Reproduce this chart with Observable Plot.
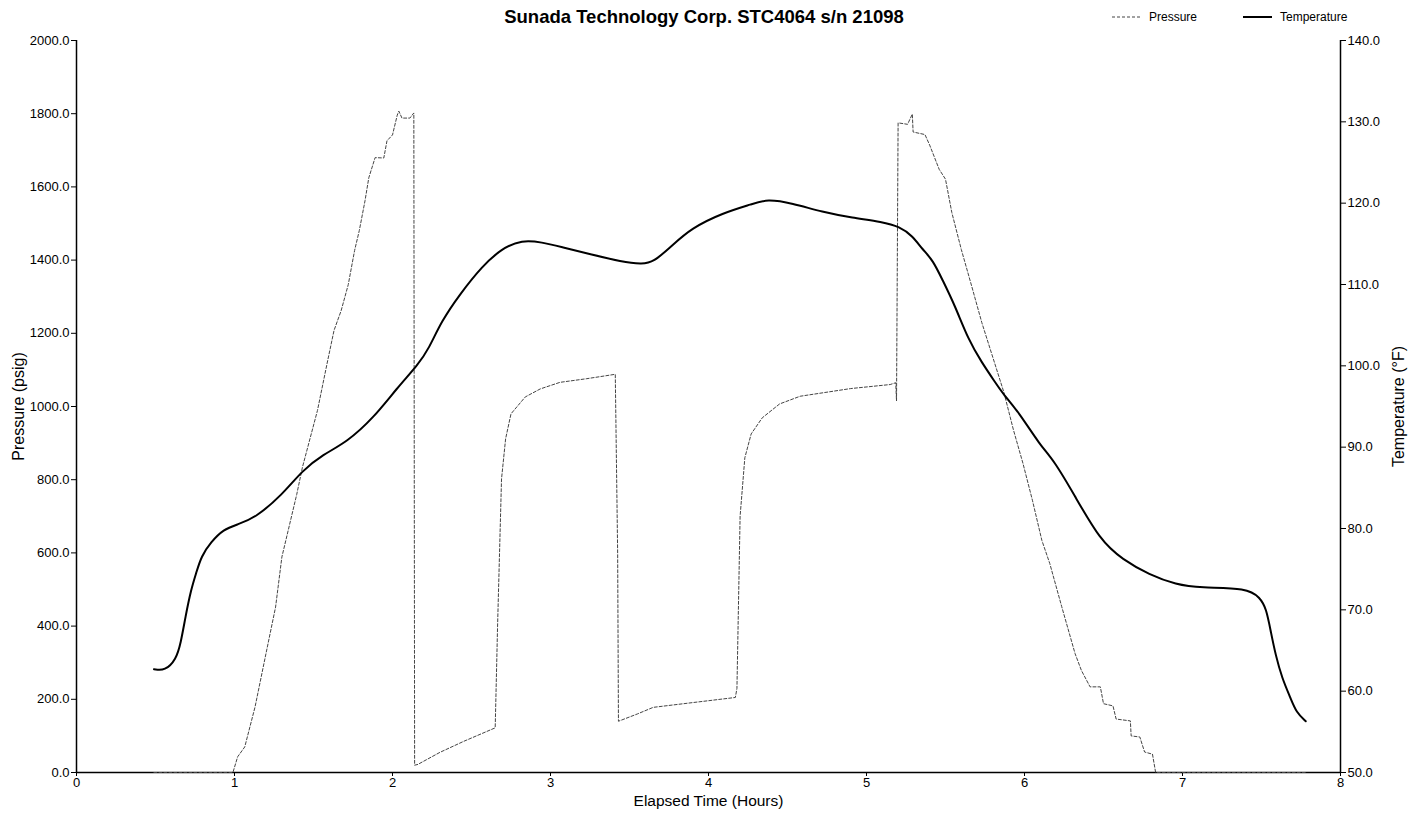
<!DOCTYPE html>
<html>
<head>
<meta charset="utf-8">
<script src="https://cdn.jsdelivr.net/npm/d3@7"></script>
<script src="https://cdn.jsdelivr.net/npm/@observablehq/plot@0.6"></script>
<style>
  body { margin: 0; background: #fff; font-family: "Liberation Sans", Arial, sans-serif; }
  #wrap { position: relative; width: 1408px; height: 813px; background: #fff; }
  #head { position: relative; width: 1408px; height: 30px; }
  #title { position: absolute; left: 0; top: 6px; width: 1408px; text-align: center;
           font-weight: bold; font-size: 18.5px; line-height: 22px; color: #000; }
  #legend { position: absolute; left: 0; top: 0; }
</style>
</head>
<body>
<div id="wrap">
  <div id="head">
    <div id="title">Sunada Technology Corp. STC4064 s/n 21098</div>
    <svg id="legend" width="1408" height="30"></svg>
  </div>
  <div id="chart"></div>
</div>
<script>
// Elapsed time (hours) and pressure (psig)
const pressureHours = [0.49, 0.99, 1.02, 1.065, 1.13, 1.195, 1.26, 1.30, 1.394, 1.43, 1.525, 1.59, 1.63, 1.675, 1.72, 1.76, 1.79, 1.826, 1.85, 1.89, 1.945, 1.965, 2.0, 2.03, 2.04, 2.06, 2.11, 2.135, 2.14, 2.16, 2.3, 2.45, 2.65, 2.665, 2.69, 2.716, 2.75, 2.84, 2.935, 3.06, 3.23, 3.41, 3.425, 3.43, 3.55, 3.65, 4.17, 4.18, 4.2, 4.23, 4.27, 4.34, 4.45, 4.58, 4.9, 5.15, 5.185, 5.19, 5.2, 5.26, 5.29, 5.295, 5.37, 5.40, 5.46, 5.50, 5.54, 5.60, 5.665, 5.73, 5.81, 5.87, 5.93, 5.99, 6.05, 6.11, 6.16, 6.235, 6.32, 6.36, 6.415, 6.48, 6.50, 6.56, 6.58, 6.67, 6.675, 6.73, 6.76, 6.81, 6.83, 7.78];
const pressurePsig  = [0, 0, 43, 70, 179, 316, 452, 589, 760, 834, 989, 1126, 1208, 1262, 1333, 1426, 1481, 1562, 1625, 1680, 1679, 1726, 1742, 1796, 1807, 1788, 1788, 1802, 20, 22, 55, 85, 122, 400, 802, 912, 980, 1026, 1048, 1066, 1076, 1088, 600, 140, 160, 178, 205, 230, 700, 860, 925, 969, 1007, 1028, 1049, 1060, 1065, 1015, 1775, 1771, 1799, 1750, 1743, 1714, 1648, 1621, 1530, 1429, 1330, 1229, 1120, 1038, 936, 845, 744, 634, 571, 454, 325, 279, 234, 234, 188, 182, 146, 141, 100, 97, 56, 50, 0, 0];

// Elapsed time (hours) and temperature (°F)
const temperatureHours = [0.49, 0.56, 0.63, 0.66, 0.69, 0.725, 0.757, 0.79, 0.85, 0.93, 1.02, 1.13, 1.30, 1.427, 1.56, 1.71, 1.88, 2.03, 2.16, 2.23, 2.31, 2.43, 2.565, 2.69, 2.82, 2.945, 3.07, 3.26, 3.45, 3.577, 3.65, 3.77, 3.89, 4.09, 4.28, 4.37, 4.53, 4.72, 4.91, 5.10, 5.21, 5.29, 5.355, 5.42, 5.48, 5.56, 5.645, 5.73, 5.81, 5.87, 5.96, 6.10, 6.185, 6.31, 6.48, 6.62, 6.79, 6.96, 7.11, 7.41, 7.49, 7.53, 7.56, 7.59, 7.63, 7.685, 7.72, 7.78];
const temperatureF = [62.7, 62.5, 63.9, 65.9, 69.2, 72.5, 74.5, 76.6, 78.3, 79.9, 80.5, 81.3, 84.1, 87.1, 89.1, 90.6, 93.6, 97.3, 100.1, 102.1, 105.5, 108.9, 112.2, 114.4, 115.5, 115.2, 114.6, 113.7, 112.8, 112.5, 112.7, 114.8, 116.9, 118.8, 119.9, 120.5, 120.0, 118.9, 118.2, 117.7, 117.1, 116.0, 114.3, 113.0, 110.6, 107.4, 103.2, 100.4, 98.1, 96.4, 94.4, 90.2, 88.4, 84.3, 78.5, 76.2, 74.3, 73.1, 72.7, 72.7, 71.5, 70.2, 67.2, 64.4, 61.6, 59.1, 57.4, 56.3];

// Tick values
const hourTicks = [0, 1, 2, 3, 4, 5, 6, 7, 8];
const pressureTicks = [0, 200, 400, 600, 800, 1000, 1200, 1400, 1600, 1800, 2000];
const temperatureTicks = [50, 60, 70, 80, 90, 100, 110, 120, 130, 140];

const pMin = 0, pMax = 2000, tMin = 50, tMax = 140;
const tToP = t => (t - tMin) / (tMax - tMin) * (pMax - pMin) + pMin;
const pToT = p => (p - pMin) / (pMax - pMin) * (tMax - tMin) + tMin;

const pressureData = pressureHours.map((h, i) => ({h, v: pressurePsig[i]}));
const temperatureData = temperatureHours.map((h, i) => ({h, v: tToP(temperatureF[i])}));

const fmt1 = d3.format(".1f");
const font = "Liberation Sans, Arial, sans-serif";

const chart = Plot.plot({
  width: 1408,
  height: 783,
  marginTop: 10,
  marginBottom: 41,
  marginLeft: 76,
  marginRight: 68,
  style: {fontFamily: font, fontSize: "13px", color: "#000", background: "#fff"},
  x: {domain: [0, 8]},
  y: {domain: [pMin, pMax]},
  marks: [
    Plot.axisX({ticks: hourTicks, tickSize: 4, tickPadding: 1, tickFormat: d => String(d), label: null}),
    Plot.axisY({ticks: pressureTicks, tickSize: 5, tickPadding: 2, tickFormat: d => fmt1(d), label: null}),
    Plot.axisY({anchor: "right", ticks: temperatureTicks.map(tToP), tickSize: 5, tickPadding: 2,
                tickFormat: d => fmt1(pToT(d)), label: null}),
    Plot.ruleX([0, 8], {stroke: "#000", strokeWidth: 1.5}),
    Plot.ruleY([0], {stroke: "#000", strokeWidth: 1.5}),
    Plot.line(pressureData, {x: "h", y: "v", stroke: "#444", strokeWidth: 1, strokeDasharray: "3,2"}),
    Plot.line(temperatureData, {x: "h", y: "v", stroke: "#000", strokeWidth: 2, curve: "basis"}),
    Plot.text(["Pressure (psig)"], {text: d => d, frameAnchor: "left", dx: -58, rotate: -90,
                                    textAnchor: "middle", lineAnchor: "middle", fontSize: 16}),
    Plot.text(["Temperature (°F)"], {text: d => d, frameAnchor: "right", dx: 58, rotate: -90,
                                     textAnchor: "middle", lineAnchor: "middle", fontSize: 16}),
    Plot.text(["Elapsed Time (Hours)"], {text: d => d, frameAnchor: "bottom", dy: 29,
                                         textAnchor: "middle", lineAnchor: "middle", fontSize: 15.5})
  ]
});
document.getElementById("chart").appendChild(chart);

// Legend
const lg = d3.select("#legend");
const legendItems = [
  {label: "Pressure", x: 1112, dash: "3,2", stroke: "#444", width: 1},
  {label: "Temperature", x: 1243, dash: null, stroke: "#000", width: 2}
];
legendItems.forEach(it => {
  lg.append("line").attr("x1", it.x).attr("x2", it.x + 29).attr("y1", 17).attr("y2", 17)
    .attr("stroke", it.stroke).attr("stroke-width", it.width)
    .attr("stroke-dasharray", it.dash);
  lg.append("text").attr("x", it.x + 37).attr("y", 21).text(it.label)
    .attr("font-family", font).attr("font-size", 12).attr("fill", "#000");
});
</script>
</body>
</html>
